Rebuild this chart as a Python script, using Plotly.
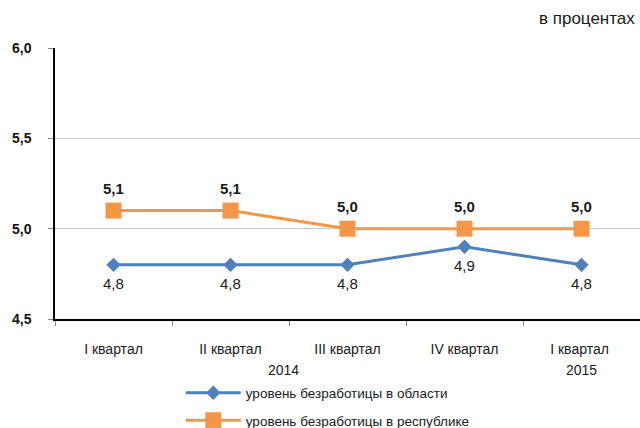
import plotly.graph_objects as go

# Quarterly unemployment rate, percent
quarters = ["I квартал", "II квартал", "III квартал", "IV квартал", "I квартал "]
years = ["2014", "2015"]
year_positions = [1.45, 4]  # centre of each year's quarter span (category index)
region = [4.8, 4.8, 4.8, 4.9, 4.8]
republic = [5.1, 5.1, 5.0, 5.0, 5.0]

name_region = "уровень безработицы в области"
name_republic = "уровень безработицы в республике"

BLUE = "#4F81BD"
ORANGE = "#F79646"
FONT = "Liberation Sans, Arial, sans-serif"
TXT = "#1a1a1a"


def fmt(v):
    return f"{v:.1f}".replace(".", ",")


fig = go.Figure()
fig.add_trace(go.Scatter(
    x=quarters, y=region, name=name_region, mode="lines+markers",
    legendgroup="a",
    line=dict(color=BLUE, width=3),
    marker=dict(symbol="diamond", size=11, color=BLUE),
))
fig.add_trace(go.Scatter(
    x=quarters, y=republic, name=name_republic, mode="lines+markers",
    legendgroup="b",
    line=dict(color=ORANGE, width=3),
    marker=dict(symbol="square", size=16, color=ORANGE),
))

# value labels: regional below the markers, republic (bold) above
for q, v in zip(quarters, region):
    fig.add_annotation(x=q, y=v, text=fmt(v), showarrow=False, yshift=-19,
                       font=dict(family=FONT, size=15, color=TXT))
for q, v in zip(quarters, republic):
    fig.add_annotation(x=q, y=v, text=f"<b>{fmt(v)}</b>", showarrow=False, yshift=22,
                       font=dict(family=FONT, size=15, color=TXT))

for yr, pos in zip(years, year_positions):
    fig.add_annotation(x=pos, y=0, xref="x", yref="paper", yanchor="middle", yshift=-51,
                       text=yr, showarrow=False, font=dict(family=FONT, size=14, color=TXT))

fig.add_annotation(x=1, y=1, xref="paper", yref="paper", xanchor="right", yanchor="bottom",
                   xshift=-3, yshift=18, text="в процентах", showarrow=False,
                   font=dict(family=FONT, size=17, color=TXT))

fig.update_layout(
    width=640, height=428,
    margin=dict(l=55, r=0, t=48, b=109),
    paper_bgcolor="white", plot_bgcolor="white",
    separators=", ",
    font=dict(family=FONT, size=14, color=TXT),
    showlegend=True,
    legend=dict(x=0.215, y=0.118, xanchor="left", yanchor="top",
                yref="container",
                font=dict(family=FONT, size=13.5, color=TXT),
                tracegroupgap=7, itemwidth=55),
)
fig.update_xaxes(
    type="category", range=[-0.5, 4.5],
    showline=True, linecolor="black", linewidth=1.5,
    ticks="outside", ticklen=5, tickcolor="#888888", tickson="boundaries",
    showgrid=False, ticklabelstandoff=16,
    tickfont=dict(family=FONT, size=14, color=TXT),
)
fig.update_yaxes(
    range=[4.5, 6.0], dtick=0.5, tickformat=".1f",
    showline=True, linecolor="black", linewidth=1.5,
    ticks="outside", ticklen=5, tickcolor="#888888",
    showgrid=True, gridcolor="#CCCCCC", gridwidth=1,
    zeroline=False, ticklabelstandoff=14,
    tickfont=dict(family=FONT, size=14, color="#111111", weight="bold"),
)

fig.write_html("out.html")
